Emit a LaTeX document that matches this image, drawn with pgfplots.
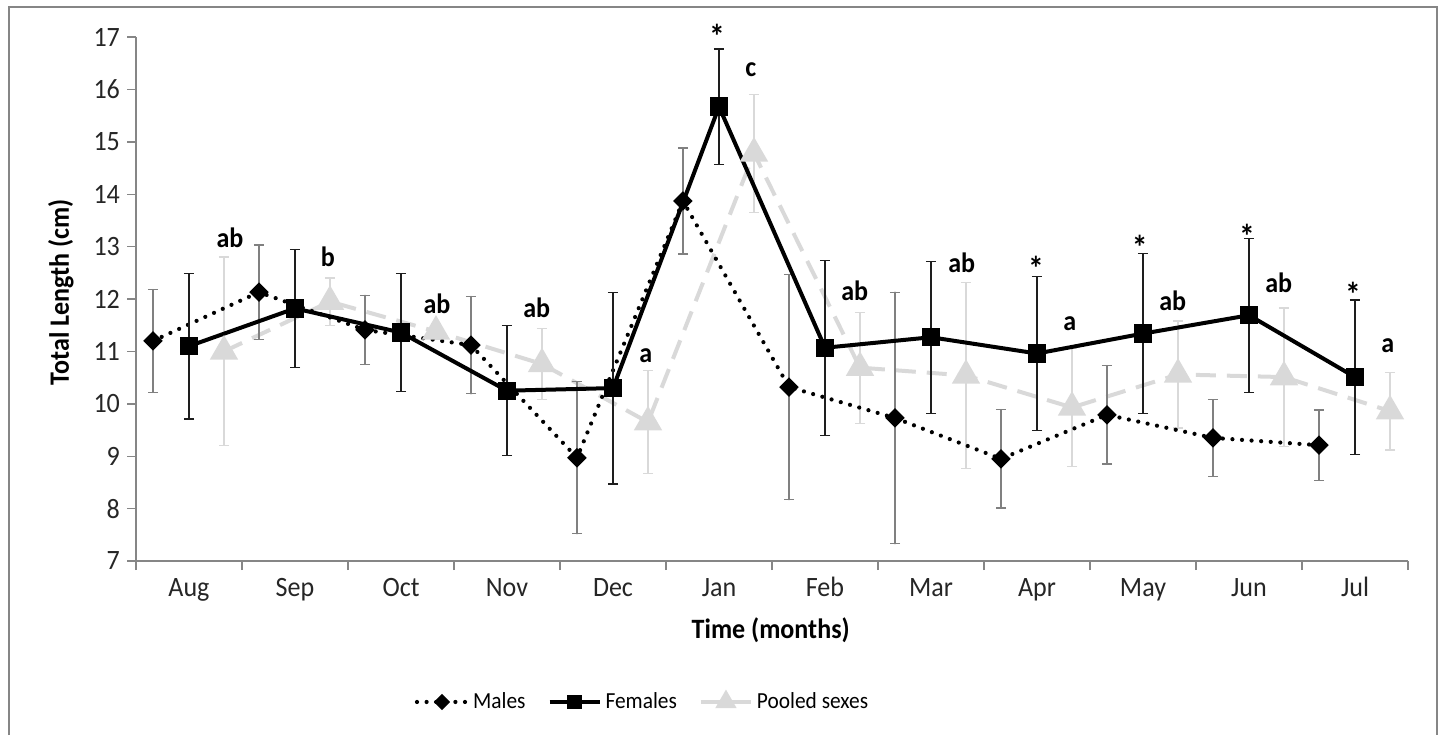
\documentclass[border=0pt]{standalone}
\usepackage{fontspec}
\setmainfont{Carlito}[FakeStretch=0.93]
\usepackage{pgfplots}
\pgfplotsset{compat=1.18}
\usepackage{pgfplotstable}
\definecolor{axisgray}{RGB}{134,134,134}
\definecolor{mgray}{RGB}{128,128,128}
\definecolor{pgray}{RGB}{217,217,217}
\definecolor{fdark}{RGB}{30,30,30}

\pgfplotstableread{
x y e
-0.34 11.20 0.98
0.66 12.13 0.90
1.66 11.41 0.66
2.66 11.12 0.93
3.66 8.97 1.45
4.66 13.87 1.01
5.66 10.32 2.15
6.66 9.73 2.40
7.66 8.95 0.94
8.66 9.79 0.94
9.66 9.35 0.73
10.66 9.21 0.67
}\males
\pgfplotstableread{
x y e
0 11.10 1.39
1 11.82 1.12
2 11.36 1.12
3 10.25 1.24
4 10.30 1.83
5 15.67 1.10
6 11.07 1.67
7 11.27 1.45
8 10.96 1.47
9 11.34 1.53
10 11.69 1.47
11 10.51 1.47
}\females
\pgfplotstableread{
x y e
0.33 11.00 1.80
1.33 11.95 0.45
2.33 11.38 0.15
3.33 10.76 0.68
4.33 9.65 0.98
5.33 14.78 1.13
6.33 10.69 1.06
7.33 10.54 1.78
8.33 9.93 1.12
9.33 10.56 1.02
10.33 10.51 1.32
11.33 9.86 0.74
}\pooled

\tikzset{
  malesstyle/.style={black, line width=2.1pt, dash pattern=on 0pt off 4.8pt, line cap=round, mark=square*, mark size=2.4pt, mark options={solid, rotate=45, fill=black}},
  femalesstyle/.style={black, line width=2pt, solid, mark=square*, mark size=3.6pt, mark options={solid, fill=black}},
  pooledstyle/.style={pgray, line width=2pt, dash pattern=on 10pt off 5.5pt, mark=triangle*, mark size=6.2pt, mark options={solid, fill=pgray, draw=pgray}},
}

\begin{document}
\begin{tikzpicture}
\useasboundingbox (0,0) rectangle (721.5pt,367.5pt);
\draw[axisgray, line width=1pt] (4.5pt,0pt) -- (4.5pt,364pt) -- (718.5pt,364pt) -- (718.5pt,0pt);
\begin{axis}[
  at={(68pt,87pt)}, anchor=south west,
  scale only axis, width=636pt, height=262pt,
  xmin=-0.5, xmax=11.5, ymin=7, ymax=17,
  clip=false,
  axis x line=bottom, axis y line=left,
  axis line style={-, draw=axisgray, line width=0.7pt},
  tick style={draw=axisgray, line width=0.7pt},
  tick align=outside, major tick length=4.5pt,
  ytick={7,8,...,17},
  xtick={-0.5,0.5,...,11.5},
  xticklabel=\empty,
  extra x ticks={0,1,...,11},
  extra x tick labels={Aug,Sep,Oct,Nov,Dec,Jan,Feb,Mar,Apr,May,Jun,Jul},
  extra x tick style={major tick length=0pt},
  /pgf/number format/assume math mode=true,
  tick label style={font=\fontsize{14}{16}\selectfont, text=black!85},
  xticklabel style={anchor=base, yshift=-17.5pt},
  xlabel={Time (months)},
  ylabel={Total Length (cm)},
  xlabel style={font=\bfseries\fontsize{14}{16}\selectfont, at={(axis description cs:0.499,-0.132)}, anchor=center},
  ylabel style={font=\bfseries\fontsize{14}{16}\selectfont, at={(axis description cs:-0.059,0.513)}, anchor=center},
  legend columns=3,
  legend style={at={(axis description cs:0.399,-0.269)}, anchor=center, draw=none, fill=none,
    font=\fontsize{11.5}{13}\selectfont, /tikz/every even column/.append style={column sep=9pt}},
  legend image code/.code={\draw[mark repeat=2,mark phase=2,#1] plot coordinates {(0pt,0pt) (12.5pt,0pt) (25pt,0pt)};},
]
\addlegendimage{malesstyle, mark size=1.8pt}
\addlegendentry{Males}
\addlegendimage{femalesstyle, mark size=2.6pt}
\addlegendentry{Females}
\addlegendimage{pooledstyle, mark size=4.2pt}
\addlegendentry{Pooled sexes}

\addplot[pooledstyle, forget plot,
  error bars/.cd, y dir=both, y explicit,
  error bar style={solid, line width=0.6pt, draw=pgray},
  error mark options={solid, rotate=90, mark size=2.6pt, line width=0.6pt, draw=pgray}]
  table[x=x, y=y, y error=e] {\pooled};
\addplot[malesstyle, forget plot,
  error bars/.cd, y dir=both, y explicit,
  error bar style={solid, line width=0.6pt, draw=mgray},
  error mark options={solid, rotate=90, mark size=2.6pt, line width=0.6pt, draw=mgray}]
  table[x=x, y=y, y error=e] {\males};
\addplot[femalesstyle, forget plot,
  error bars/.cd, y dir=both, y explicit,
  error bar style={solid, line width=0.6pt, draw=fdark},
  error mark options={solid, rotate=90, mark size=2.6pt, line width=0.6pt, draw=fdark}]
  table[x=x, y=y, y error=e] {\females};

\begin{scope}[every node/.style={font=\bfseries\fontsize{14}{16}\selectfont, inner sep=0pt, anchor=center}]
\node at (axis cs:0.387,13.16) {ab};
\node at (axis cs:1.311,12.80) {b};
\node at (axis cs:2.34,11.90) {ab};
\node at (axis cs:3.28,11.83) {ab};
\node at (axis cs:4.31,10.91) {a};
\node[font=\bfseries\fontsize{17}{18}\selectfont] at (axis cs:4.98,17.02) {*};
\node at (axis cs:5.30,16.37) {c};
\node at (axis cs:6.28,12.15) {ab};
\node at (axis cs:7.29,12.69) {ab};
\node[font=\bfseries\fontsize{17}{18}\selectfont] at (axis cs:7.99,12.58) {*};
\node at (axis cs:8.31,11.52) {a};
\node[font=\bfseries\fontsize{17}{18}\selectfont] at (axis cs:8.97,12.98) {*};
\node at (axis cs:9.28,11.96) {ab};
\node[font=\bfseries\fontsize{17}{18}\selectfont] at (axis cs:9.98,13.19) {*};
\node at (axis cs:10.28,12.31) {ab};
\node[font=\bfseries\fontsize{17}{18}\selectfont] at (axis cs:10.98,12.08) {*};
\node at (axis cs:11.31,11.10) {a};
\end{scope}
\end{axis}
\end{tikzpicture}
\end{document}
